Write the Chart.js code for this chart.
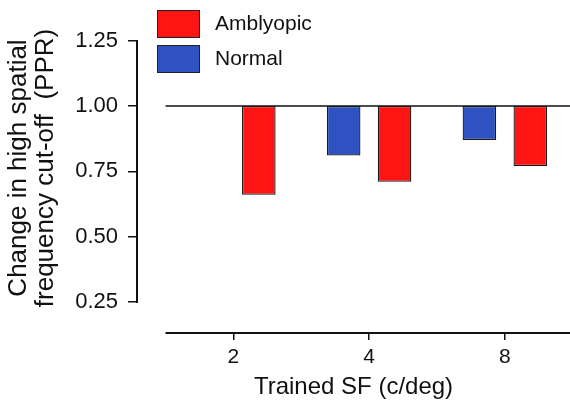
<!DOCTYPE html>
<html>
<head>
<meta charset="utf-8">
<script src="https://cdn.jsdelivr.net/npm/chart.js@4.4.1/dist/chart.umd.min.js"></script>
<style>
  body { margin: 0; background: #fff; }
  #wrap { width: 570px; height: 408px; }
</style>
</head>
<body>
<div id="wrap"><canvas id="sf_chart"></canvas></div>
<script>
// values (PPR, 1.00 = no change)
const sfLabels = ['2', '4', '8'];
const amblyopic = [0.66, 0.71, 0.77];
const normal = [null, 0.81, 0.87];
const baseline = 1.0;
const yTicks = [0.25, 0.50, 0.75, 1.00, 1.25];

const FONT = "'Liberation Sans', Arial, sans-serif";
const INK = '#111';

// bars hang down from the 1.00 line
function toBars(vals) {
    return vals.map((v, i) => ({ x: i, y: v === null ? null : [baseline, v] }));
}

// 1.00 reference line, detached x axis line, bounded y spine
const axisLines = {
    id: 'axisLines',
    beforeDatasetsDraw(chart) {
        const { ctx, chartArea, scales: { x, y } } = chart;
        const xStart = x.getPixelForValue(-0.5);
        const yBase = y.getPixelForValue(baseline);
        ctx.save();
        ctx.strokeStyle = INK;
        ctx.lineWidth = 1.5;
        ctx.beginPath();
        ctx.moveTo(xStart, yBase);
        ctx.lineTo(chartArea.right, yBase);
        ctx.stroke();
        ctx.lineWidth = 2;
        ctx.beginPath();
        ctx.moveTo(xStart, chartArea.bottom);
        ctx.lineTo(chartArea.right, chartArea.bottom);
        ctx.stroke();
        // spine only between first and last tick
        const top = Math.round(y.getPixelForValue(yTicks[yTicks.length - 1])) - 1;
        const bottom = Math.round(y.getPixelForValue(yTicks[0])) + 1;
        ctx.fillStyle = INK;
        ctx.fillRect(Math.round(y.right) - 1, top, 2, bottom - top);
        ctx.restore();
    }
};

// stacked legend with big swatches, top left
const legendBoxes = {
    id: 'legendBoxes',
    afterDraw(chart) {
        const ctx = chart.ctx;
        const items = chart.data.datasets.slice().reverse();
        ctx.save();
        ctx.font = '21px ' + FONT;
        ctx.textBaseline = 'middle';
        items.forEach((ds, i) => {
            const top = 10 + i * 35;
            ctx.fillStyle = ds.backgroundColor;
            ctx.fillRect(157, top, 43, 28);
            ctx.strokeStyle = '#222';
            ctx.lineWidth = 1;
            ctx.strokeRect(157.5, top + 0.5, 42, 27);
            ctx.fillStyle = INK;
            ctx.fillText(ds.label, 215, top + 14);
        });
        ctx.restore();
    }
};

const ctx = document.getElementById('sf_chart').getContext('2d');
const myChart = new Chart(ctx, {
    type: 'bar',
    data: {
        datasets: [{
            label: 'Normal',
            data: toBars(normal),
            backgroundColor: '#2f52c0',
            borderColor: '#1a1a1a',
            borderWidth: 1.3,
            borderSkipped: false
        }, {
            label: 'Amblyopic',
            data: toBars(amblyopic),
            backgroundColor: '#ff1414',
            borderColor: '#1a1a1a',
            borderWidth: 1.3,
            borderSkipped: false
        }]
    },
    options: {
        responsive: true,
        maintainAspectRatio: false,
        animation: false,
        layout: { padding: { top: 3, right: 0, bottom: 0, left: 0 } },
        categoryPercentage: 0.75,
        barPercentage: 0.66,
        plugins: {
            legend: { display: false },
            tooltip: { enabled: false }
        },
        scales: {
            x: {
                type: 'linear',
                bounds: 'data',
                offset: false,
                min: -0.71,
                max: 2.48,
                afterBuildTicks: s => { s.ticks = sfLabels.map((_, i) => ({ value: i })); },
                afterFit: s => { s.height = 75; s.paddingLeft = 0; s.paddingRight = 0; },
                border: { display: false },
                grid: { offset: false, drawOnChartArea: false, drawTicks: true, tickLength: 7, color: INK, lineWidth: 1.5 },
                ticks: {
                    callback: v => sfLabels[v],
                    color: INK,
                    font: { family: FONT, size: 21 },
                    padding: 5,
                    maxRotation: 0
                },
                title: {
                    display: true,
                    text: 'Trained SF (c/deg)',
                    color: INK,
                    font: { family: FONT, size: 24 },
                    padding: { top: 0, bottom: 6 }
                }
            },
            y: {
                bounds: 'data',
                min: 0.13,
                max: 1.395,
                afterBuildTicks: s => { s.ticks = yTicks.map(v => ({ value: v })); },
                afterFit: s => { s.width = 137; s.paddingTop = 0; s.paddingBottom = 0; },
                border: { display: false },
                grid: { drawOnChartArea: false, drawTicks: true, tickLength: 9, color: INK, lineWidth: 1.5 },
                ticks: {
                    callback: v => v.toFixed(2),
                    color: INK,
                    font: { family: FONT, size: 22 },
                    padding: 10
                },
                title: {
                    display: true,
                    text: ['Change in high spatial', 'frequency cut-off  (PPR)'],
                    color: INK,
                    font: { family: FONT, size: 26, lineHeight: 1.04 },
                    padding: { top: 5, bottom: 0 }
                }
            }
        }
    },
    plugins: [axisLines, legendBoxes]
});
</script>
</body>
</html>
